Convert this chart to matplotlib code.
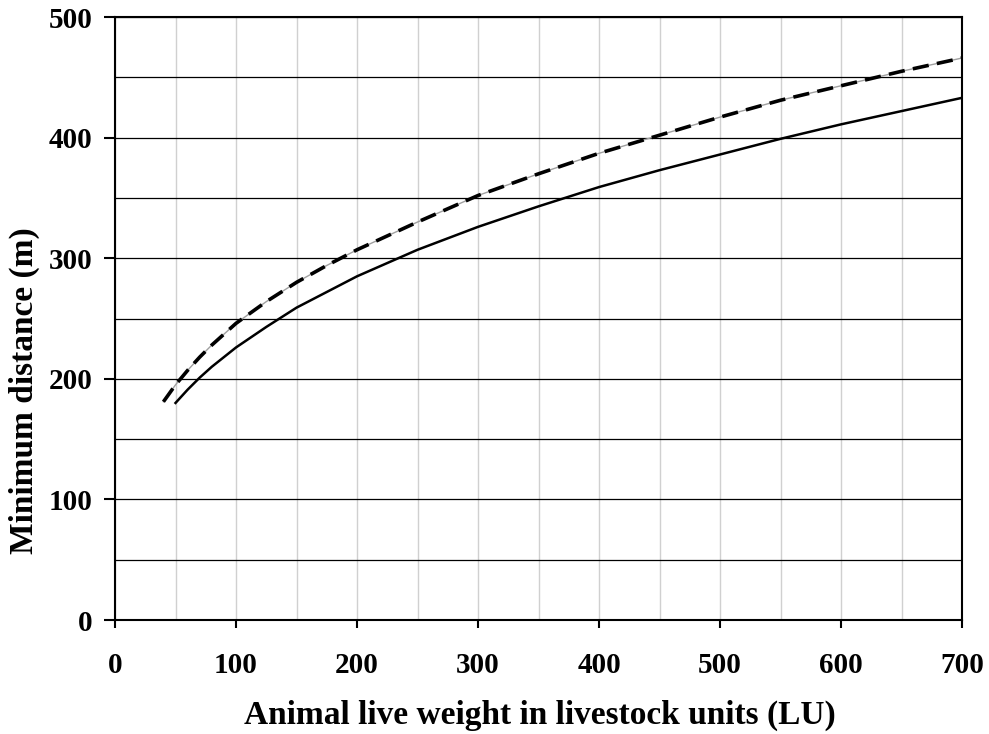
import matplotlib.pyplot as plt
from matplotlib.ticker import MultipleLocator

# solid curve
x_solid = [50, 60, 70, 80, 90, 100, 125, 150, 175, 200, 250, 300, 350, 400,
           450, 500, 550, 600, 650, 700]
y_solid = [180, 191, 201, 210, 218, 226, 243, 259, 272, 285, 307, 326, 343, 359,
           373, 386, 399, 411, 422, 433]

# dashed curve (with thin grey line underneath)
x_dash = [40, 50, 60, 70, 80, 90, 100, 125, 150, 175, 200, 250, 300, 350, 400,
          450, 500, 550, 600, 650, 700]
y_dash = [181, 195, 207, 218, 228, 237, 246, 264, 280, 294, 307, 330, 352, 370, 387,
          402, 417, 431, 443, 455, 466]

x_ticks = [0, 100, 200, 300, 400, 500, 600, 700]
y_ticks = [0, 100, 200, 300, 400, 500]

plt.rcParams['font.family'] = ['Liberation Serif', 'DejaVu Serif']
plt.rcParams['font.weight'] = 'bold'

fig = plt.figure(figsize=(9.89, 7.34), dpi=100)
ax = fig.add_axes([0.1163, 0.1553, 0.8564, 0.8215])

ax.set_xlim(0, 700)
ax.set_ylim(0, 500)

# grid
ax.xaxis.set_minor_locator(MultipleLocator(50))
ax.yaxis.set_minor_locator(MultipleLocator(50))
ax.grid(which='both', axis='x', color='#d0d0d0', linewidth=1.0)
ax.grid(which='both', axis='y', color='black', linewidth=0.9)
ax.set_axisbelow(True)

ax.plot(x_dash, y_dash, color='#a0a0a0', linewidth=1.0)
ax.plot(x_dash, y_dash, color='black', linewidth=2.6, linestyle=(0, (4.5, 2.3)))
ax.plot(x_solid, y_solid, color='black', linewidth=1.8)

ax.set_xticks(x_ticks)
ax.set_yticks(y_ticks)
ax.tick_params(which='minor', length=0)
ax.tick_params(which='major', direction='out', width=1.5, labelsize=21)
ax.tick_params(axis='x', length=6, pad=17)
ax.tick_params(axis='y', length=8, pad=8)
for s in ax.spines.values():
    s.set_linewidth(1.5)

ax.set_xlabel('Animal live weight in livestock units (LU)', fontsize=24, fontweight='bold')
ax.set_ylabel('Minimum distance (m)', fontsize=24, fontweight='bold')
ax.xaxis.set_label_coords(0.502, -0.133)
ax.yaxis.set_label_coords(-0.088, 0.38)

fig.savefig('out.png', dpi=100)
